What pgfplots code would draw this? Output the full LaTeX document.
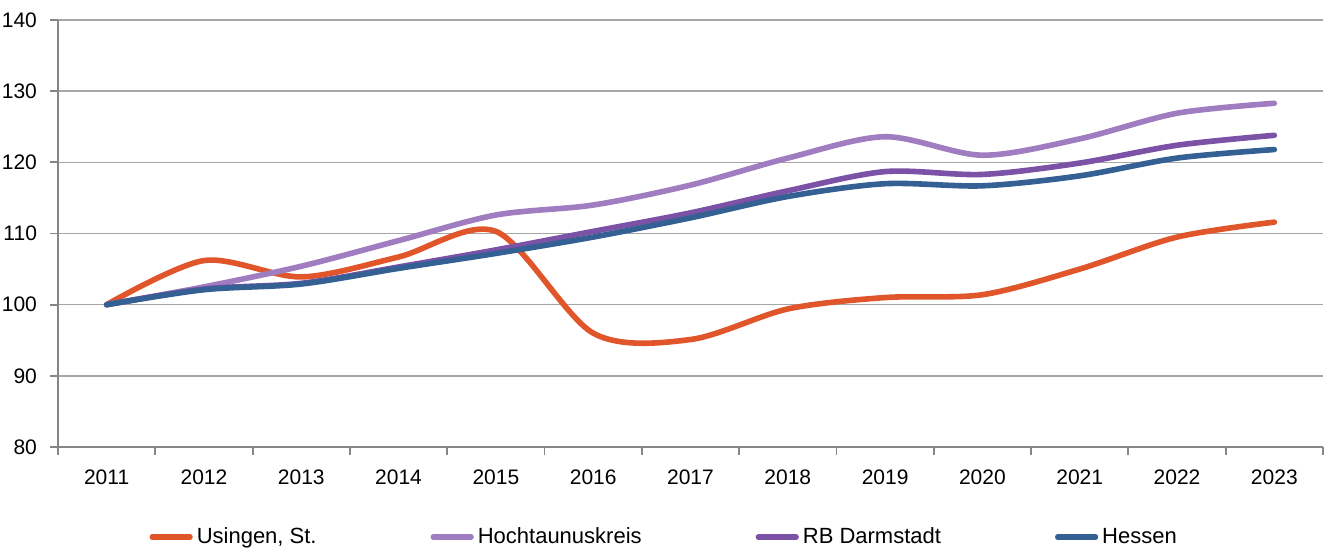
\documentclass[border=0pt]{standalone}
\usepackage{fontspec}
\setmainfont{Liberation Sans}
\usepackage{pgfplots}
\pgfplotsset{compat=1.18}

\definecolor{cUsi}{HTML}{E0552A}
\definecolor{cHtk}{HTML}{A07CC0}
\definecolor{cRBD}{HTML}{7B52A6}
\definecolor{cHes}{HTML}{346094}
\definecolor{axgray}{HTML}{868686}
\definecolor{gridgray}{HTML}{A6A6A6}

\begin{document}
\begin{tikzpicture}
\path[use as bounding box] (-29pt,-54.5pt) rectangle (635.5pt,223.5pt);
\begin{axis}[
    scale only axis,
    width=632.5pt, height=213.5pt,
    at={(0,0)}, anchor=south west,
    xmin=-0.5, xmax=12.5,
    ymin=80, ymax=140,
    ytick={80,90,...,140},
    xtick={-0.5,0.5,...,12.5},
    x tick label as interval,
    xticklabels={2011,2012,2013,2014,2015,2016,2017,2018,2019,2020,2021,2022,2023},
    axis x line*=bottom, axis y line*=left,
    axis line style={draw=axgray, line width=0.9pt, -},
    tick style={draw=axgray, line width=0.9pt},
    tick align=outside,
    major tick length=4pt,
    ymajorgrids,
    grid style={draw=gridgray, line width=0.8pt},
    ticklabel style={font=\fontsize{10.5}{12}\selectfont},
    /pgf/number format/assume math mode=true,
    x tick label style={yshift=-4pt},
    y tick label style={xshift=-3pt},
    legend columns=4,
    legend style={
        at={(axis description cs:0.48,-0.211)}, anchor=center,
        draw=none, fill=none,
        font=\fontsize{11}{13}\selectfont,
        /tikz/every even column/.append style={column sep=55pt},
        inner xsep=0pt, inner ysep=0pt,
    },
    legend image code/.code={
        \draw[#1, line width=2.6pt, line cap=round] (0pt,0pt) -- (19pt,0pt);
    },
    every axis plot/.append style={line width=2.8pt, line cap=round, line join=round, smooth, tension=0.5},
]
\addplot[cUsi] coordinates {
    (0,100) (1,106.2) (2,103.9) (3,106.7) (4,110.3) (5,96.0) (6,95.1)
    (7,99.4) (8,101.0) (9,101.4) (10,105.0) (11,109.5) (12,111.6)
};
\addlegendentry{Usingen, St.}
\addplot[cHtk] coordinates {
    (0,100) (1,102.5) (2,105.4) (3,109.0) (4,112.6) (5,114.0) (6,116.8)
    (7,120.6) (8,123.6) (9,121.0) (10,123.3) (11,126.9) (12,128.3)
};
\addlegendentry{Hochtaunuskreis}
\addplot[cRBD] coordinates {
    (0,100) (1,102.2) (2,103.0) (3,105.3) (4,107.7) (5,110.3) (6,112.9)
    (7,116.0) (8,118.7) (9,118.3) (10,119.9) (11,122.4) (12,123.8)
};
\addlegendentry{RB Darmstadt}
\addplot[cHes] coordinates {
    (0,100) (1,102.1) (2,102.9) (3,105.1) (4,107.2) (5,109.5) (6,112.2)
    (7,115.2) (8,117.0) (9,116.7) (10,118.1) (11,120.6) (12,121.8)
};
\addlegendentry{Hessen}
\end{axis}
\end{tikzpicture}
\end{document}
